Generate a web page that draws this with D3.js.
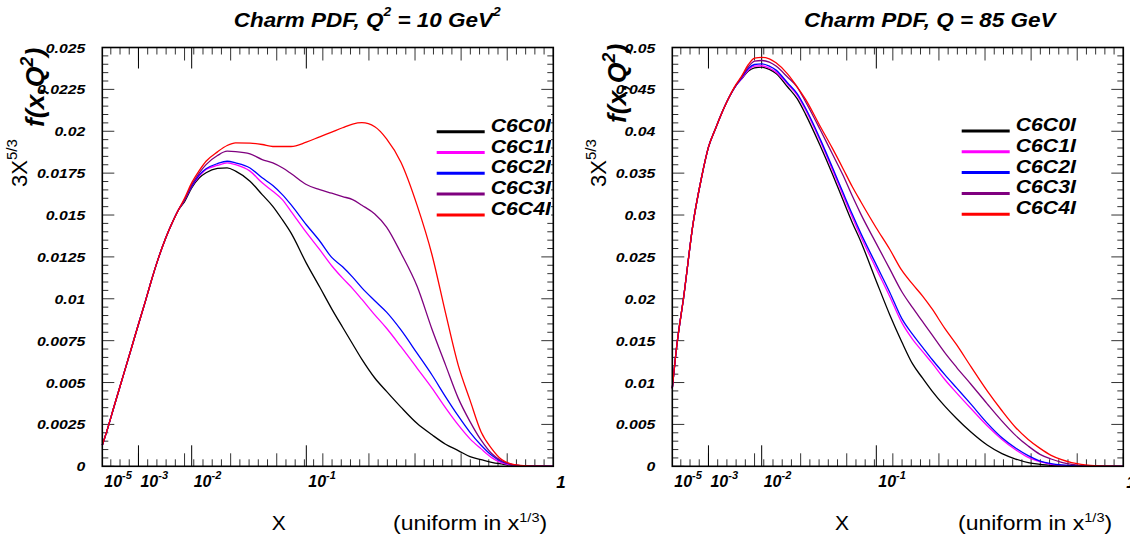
<!DOCTYPE html>
<html><head><meta charset="utf-8">
<script src="https://cdn.jsdelivr.net/npm/d3@7"></script>
<style>body{margin:0;background:#fff}svg{display:block}</style>
</head><body><svg id="c" width="1130" height="540"></svg>
<script>
// ---------------- data ----------------
const xGrid = [0.00001,0.00003,0.0001,0.0003,0.0006,0.001,0.0015,0.002,0.003,0.004,0.005,0.0065,0.008,0.01,0.0125,0.015,0.02,0.025,0.03,0.04,0.05,0.06,0.07,0.08,0.1,0.12,0.14,0.16,0.18,0.2,0.23,0.26,0.3,0.35,0.4,0.45,0.5,0.55,0.6,0.65,0.7,0.75,0.8,0.9,1.0];
const seriesNames = ["C6C0I","C6C1I","C6C2I","C6C3I","C6C4I"];

// Left panel: Q^2 = 10 GeV^2
const q10_C6C0I = [0.00126,0.00207,0.00351,0.00541,0.00702,0.00848,0.0098,0.0109,0.0125,0.0136,0.0144,0.0153,0.0158,0.01662,0.01722,0.01752,0.01778,0.01782,0.01762,0.01702,0.01622,0.01552,0.01472,0.01393,0.01213,0.0107,0.0094,0.0083,0.0073,0.00638,0.00527,0.00447,0.00353,0.00255,0.00188,0.00132,0.00094,0.00058,0.0004,0.00024,0.00014,0.00006,0.00003,0.00001,0];
const q10_C6C1I = [0.00126,0.00207,0.00351,0.00541,0.00702,0.00848,0.0098,0.0109,0.0125,0.0136,0.0144,0.0153,0.0159,0.0167,0.01732,0.01772,0.01796,0.01811,0.01801,0.01762,0.01692,0.01642,0.01592,0.01522,0.01396,0.01293,0.01197,0.01123,0.01061,0.00996,0.00904,0.00824,0.00714,0.00585,0.00467,0.00349,0.00247,0.00164,0.00104,0.00052,0.0002,0.00008,0.00003,0.00001,0];
const q10_C6C2I = [0.00126,0.00207,0.00351,0.00541,0.00702,0.00848,0.0098,0.0109,0.0125,0.0136,0.0144,0.0153,0.0159,0.0167,0.0174,0.01776,0.01807,0.01821,0.01811,0.01781,0.01722,0.01676,0.01622,0.01562,0.01442,0.01345,0.01247,0.01191,0.01129,0.01065,0.00988,0.0092,0.00814,0.00674,0.00545,0.00415,0.00301,0.00203,0.00126,0.00066,0.00028,0.00012,0.00004,0.00001,0];
const q10_C6C3I = [0.00126,0.00207,0.00351,0.00541,0.00702,0.00848,0.0098,0.0109,0.0125,0.0136,0.0144,0.0153,0.0159,0.0168,0.01752,0.01801,0.01855,0.01881,0.01879,0.01865,0.01831,0.01811,0.01782,0.01748,0.01682,0.01652,0.0163,0.0161,0.01592,0.01558,0.01506,0.01428,0.01273,0.01073,0.00818,0.00604,0.00407,0.00267,0.00156,0.00076,0.00032,0.00012,0.00004,0.00001,0];
const q10_C6C4I = [0.00126,0.00207,0.00351,0.00541,0.00702,0.00848,0.0098,0.0109,0.0125,0.0136,0.0144,0.0153,0.016,0.01692,0.01766,0.01821,0.01877,0.01915,0.01931,0.01929,0.01921,0.01909,0.01909,0.01909,0.01935,0.01967,0.01995,0.02021,0.02043,0.02051,0.02027,0.01955,0.01815,0.01556,0.01263,0.00914,0.00604,0.00395,0.00205,0.00106,0.0004,0.00014,0.00006,0.00001,0];

// Right panel: Q = 85 GeV
const q85_C6C0I = [0.0093,0.0143,0.0203,0.0291,0.0343,0.0381,0.0402,0.0418,0.044,0.0454,0.04619,0.04718,0.04758,0.04766,0.04738,0.0469,0.04531,0.04389,0.04202,0.03833,0.03496,0.03184,0.02909,0.02678,0.0221,0.0181,0.01488,0.01222,0.01052,0.00901,0.00718,0.00571,0.00409,0.00254,0.00151,0.00087,0.00044,0.00024,0.00012,0.00006,0.00003,0.00001,0,0,0];
const q85_C6C1I = [0.0093,0.0143,0.0203,0.0291,0.0343,0.0381,0.0402,0.0418,0.044,0.0454,0.0462,0.0473,0.04778,0.04782,0.04754,0.04706,0.04563,0.04432,0.04254,0.03889,0.03547,0.03242,0.02972,0.02738,0.02357,0.02028,0.01718,0.01516,0.01369,0.01234,0.01036,0.00877,0.0069,0.00484,0.00321,0.00198,0.00107,0.00056,0.00024,0.00012,0.00006,0.00002,0.00001,0,0];
const q85_C6C2I = [0.0093,0.0143,0.0203,0.0291,0.0343,0.0381,0.0402,0.0418,0.044,0.0454,0.0463,0.0475,0.04797,0.04805,0.04778,0.0473,0.04579,0.04448,0.04274,0.03912,0.03575,0.03274,0.03008,0.02778,0.02405,0.02079,0.01766,0.01575,0.01421,0.01278,0.01095,0.00936,0.00742,0.00516,0.00341,0.00218,0.00127,0.00063,0.00032,0.00016,0.00008,0.00003,0.00001,0,0];
const q85_C6C3I = [0.0093,0.0143,0.0203,0.0291,0.0343,0.0381,0.0402,0.0418,0.044,0.0454,0.0464,0.0477,0.04837,0.04845,0.04825,0.04778,0.04647,0.04528,0.04353,0.04024,0.03734,0.0348,0.03226,0.03008,0.02659,0.02357,0.02087,0.01893,0.01726,0.01571,0.01357,0.01182,0.0098,0.00746,0.0054,0.00369,0.00242,0.00143,0.00087,0.00048,0.00024,0.00008,0.00004,0.00001,0];
const q85_C6C4I = [0.0093,0.0143,0.0203,0.0291,0.0343,0.0381,0.0402,0.0418,0.044,0.0455,0.0465,0.04797,0.04873,0.04881,0.04865,0.04817,0.04686,0.04531,0.04381,0.04063,0.03801,0.03559,0.03337,0.03155,0.02845,0.02591,0.02341,0.02174,0.02032,0.01881,0.01647,0.01452,0.0119,0.009,0.00663,0.00464,0.00321,0.00214,0.00131,0.00079,0.00044,0.00024,0.00012,0.00002,0];

// tick labels
const xTickValues = [0.00001, 0.001, 0.01, 0.1];
const xTickExponents = ["-5", "-3", "-2", "-1"];
const xBigTicks = [0.001, 0.01, 0.1];
const yTickLabelsLeft = ["0","0.0025","0.005","0.0075","0.01","0.0125","0.015","0.0175","0.02","0.0225","0.025"];
const yTickLabelsRight = ["0","0.005","0.01","0.015","0.02","0.025","0.03","0.035","0.04","0.045","0.05"];

// ---------------- drawing ----------------
const colors = ["#000000","#ff00ff","#0000ff","#7f007f","#ff0000"];
const FONT = "'Liberation Sans', Arial, Helvetica, sans-serif";
const svg = d3.select("#c");
svg.append("rect").attr("width",1130).attr("height",540).attr("fill","#fff");

function richText(g, parts, baseSize, opts) {
  const t = g.append("text").attr("font-family", FONT).attr("font-size", baseSize)
    .attr("font-weight", opts.bold ? "bold" : "normal")
    .attr("font-style", opts.italic ? "italic" : "normal")
    .attr("fill", "#000");
  if (opts.transform) t.attr("transform", opts.transform);
  else if (opts.sx) t.attr("transform", `translate(${opts.x},${opts.y}) scale(${opts.sx},1)`);
  else t.attr("x", opts.x).attr("y", opts.y);
  if (opts.anchor) t.attr("text-anchor", opts.anchor);
  let raised = 0;
  parts.forEach(p => {
    const s = t.append("tspan").text(p.t);
    if (p.sup) {
      const r = p.rise || baseSize * 0.45;
      s.attr("font-size", p.size || baseSize * 0.68).attr("dy", -r);
      raised = r;
    } else if (raised) {
      s.attr("dy", raised); raised = 0;
    }
  });
  return t;
}

function drawPanel(cfg) {
  const g = svg.append("g");
  const x = d3.scalePow().exponent(1/3).domain([1e-5, 1]).range([cfg.left, cfg.right]);
  const y = d3.scaleLinear().domain([0, cfg.ymax]).range([cfg.bottom, cfg.top]);

  // ticks (uniform in x^{1/3})
  const tk = g.append("g").attr("stroke", "#000").attr("stroke-width", 1);
  for (let k = 1; k <= 50; k++) {
    const u = 0.02 * k;
    if (u < 0.0216) continue;
    const px = x(u * u * u);
    const len = (k % 5 === 0) ? 13 : 7;
    tk.append("line").attr("x1", px).attr("x2", px).attr("y1", cfg.bottom).attr("y2", cfg.bottom - len).attr("stroke","#333");
    tk.append("line").attr("x1", px).attr("x2", px).attr("y1", cfg.top).attr("y2", cfg.top + len).attr("stroke","#333");
  }
  xBigTicks.forEach(v => {
    const px = x(v);
    tk.append("line").attr("x1", px).attr("x2", px).attr("y1", cfg.bottom).attr("y2", cfg.bottom - 21);
    tk.append("line").attr("x1", px).attr("x2", px).attr("y1", cfg.top).attr("y2", cfg.top + 21);
  });
  // y ticks
  const nMinor = 50;
  for (let i = 0; i <= nMinor; i++) {
    const v = cfg.ymax * i / nMinor;
    const py = y(v);
    const len = (i % 5 === 0) ? 12 : 6;
    tk.append("line").attr("x1", cfg.left).attr("x2", cfg.left + len).attr("y1", py).attr("y2", py).attr("stroke","#333");
    tk.append("line").attr("x1", cfg.right).attr("x2", cfg.right - len).attr("y1", py).attr("y2", py).attr("stroke","#333");
  }

  // y labels
  cfg.yLabels.forEach((lab, i) => {
    const v = cfg.ymax * i / (cfg.yLabels.length - 1);
    g.append("text").attr("transform", `translate(${cfg.left - 17},${y(v) + 5}) scale(1.17,1)`)
      .attr("text-anchor", "end").attr("font-family", FONT).attr("font-size", 13.5)
      .attr("font-weight", "bold").attr("font-style", "italic").text(lab);
  });
  // x labels
  xTickValues.forEach((v, i) => {
    richText(g, [{t:"10"},{t:xTickExponents[i], sup:true, size:11, rise:8}], 16,
      {bold:true, italic:true, x: x(v) + 2, y: 487});
  });
  richText(g, [{t:"1"}], 17, {bold:true, italic:true, x: x(1) + 3, y: 488});

  // curves
  const line = d3.line().x((d, i) => x(xGrid[i])).y(d => y(d)).curve(d3.curveMonotoneX);
  cfg.series.forEach((s, i) => {
    g.append("path").datum(s).attr("d", line).attr("fill", "none")
      .attr("stroke", colors[i]).attr("stroke-width", 1.3);
  });

  // frame
  g.append("rect").attr("x", cfg.left).attr("y", cfg.top)
    .attr("width", cfg.right - cfg.left).attr("height", cfg.bottom - cfg.top)
    .attr("fill", "none").attr("stroke", "#000").attr("stroke-width", 1.6);

  // legend
  const lg = g.append("g");
  if (cfg.legendBox) {
    const b = cfg.legendBox;
    lg.append("rect").attr("x", b[0]).attr("y", b[1]).attr("width", b[2]).attr("height", b[3]).attr("fill", "#fff");
    svg.append("clipPath").attr("id", cfg.id + "clip").append("rect")
      .attr("x", b[0]).attr("y", b[1]).attr("width", b[2]).attr("height", b[3]);
    lg.attr("clip-path", `url(#${cfg.id}clip)`);
  }
  seriesNames.forEach((nm, i) => {
    const ly = cfg.legendY + i * 20.8;
    lg.append("line").attr("x1", cfg.legendX).attr("x2", cfg.legendX + 48)
      .attr("y1", ly).attr("y2", ly).attr("stroke", colors[i]).attr("stroke-width", 3);
    lg.append("text").attr("transform", `translate(${cfg.legendX + 54},${ly}) scale(1.18,1)`)
      .attr("font-family", FONT).attr("font-size", 18).attr("font-weight", "bold")
      .attr("font-style", "italic").text(nm);
  });

  // title
  richText(g, cfg.title, 21, {bold:true, italic:true, x: cfg.titleX, y: 27, sx: 1.07});

  // x-axis title
  richText(g, [{t:"X"}], 21, {x: cfg.xTitleX, y: 530});
  richText(g, [{t:"(uniform in x"},{t:"1/3", sup:true, size:13, rise:8},{t:")"}], 20.5, {x: cfg.xNoteX, y: 530, sx: 1.12});

  // y-axis title
  richText(g, [{t:"3X"},{t:"5/3", sup:true, size:15, rise:10}], 22,
    {transform: `translate(${cfg.yt1X},187) rotate(-90)`});
  richText(g, [{t:"f(x,Q"},{t:"2", sup:true, size:18, rise:11},{t:")"}], 26.5,
    {bold:true, italic:true, transform: `translate(${cfg.yt2X},${cfg.yt2Y}) rotate(-90)`});
}

drawPanel({
  id: "L", left: 102.3, right: 553.3, top: 47.5, bottom: 466.3, ymax: 0.025,
  yLabels: yTickLabelsLeft,
  series: [q10_C6C0I, q10_C6C1I, q10_C6C2I, q10_C6C3I, q10_C6C4I],
  legendX: 436.7, legendY: 131.7, legendBox: [431, 114, 120, 108],
  title: [{t:"Charm PDF, Q"},{t:"2", sup:true, size:13, rise:11},{t:" = 10 GeV"},{t:"2", sup:true, size:13, rise:11}],
  titleX: 233.7, xTitleX: 271.7, xNoteX: 393,
  yt1X: 27, yt2X: 44, yt2Y: 127
});
drawPanel({
  id: "R", left: 672.3, right: 1123.3, top: 47.5, bottom: 466.3, ymax: 0.05,
  yLabels: yTickLabelsRight,
  series: [q85_C6C0I, q85_C6C1I, q85_C6C2I, q85_C6C3I, q85_C6C4I],
  legendX: 961.7, legendY: 131, legendBox: null,
  title: [{t:"Charm PDF, Q = 85 GeV"}],
  titleX: 804, xTitleX: 835, xNoteX: 958,
  yt1X: 606, yt2X: 626, yt2Y: 123
});
</script>
</body></html>
